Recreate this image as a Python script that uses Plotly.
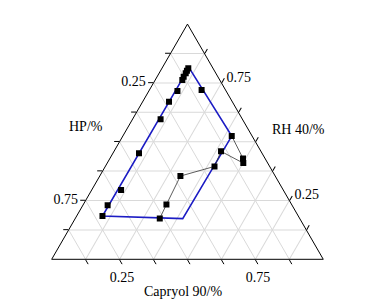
import plotly.graph_objects as go

# Ternary components: RH 40 (top, a), HP (bottom-left, b), Capryol 90 (bottom-right, c)
# Boundary points on the left side (squares)
left_rh  = [0.812, 0.802, 0.791, 0.776, 0.762, 0.716, 0.670, 0.596, 0.451, 0.295, 0.230, 0.184]
left_hp  = [0.091, 0.101, 0.111, 0.126, 0.138, 0.179, 0.233, 0.301, 0.453, 0.597, 0.679, 0.721]
left_cap = [0.097, 0.097, 0.098, 0.098, 0.100, 0.105, 0.097, 0.103, 0.096, 0.108, 0.091, 0.095]

# Extra square on the upper-right boundary
right_rh  = [0.720]
right_hp  = [0.088]
right_cap = [0.192]

# Thin black connected series
tie_rh  = [0.524, 0.429, 0.409, 0.459, 0.395, 0.354, 0.233, 0.174]
tie_hp  = [0.075, 0.081, 0.090, 0.147, 0.203, 0.349, 0.461, 0.515]
tie_cap = [0.401, 0.490, 0.501, 0.394, 0.402, 0.297, 0.306, 0.311]

# Blue region outline
region_rh  = [0.815, 0.524, 0.173, 0.184, 0.815]
region_hp  = [0.087, 0.075, 0.431, 0.721, 0.087]
region_cap = [0.098, 0.401, 0.396, 0.095, 0.098]

tick_vals = [0.125, 0.25, 0.375, 0.5, 0.625, 0.75, 0.875]
tick_text = ["", "0.75", "", "", "", "0.25", ""]

font_family = "Liberation Serif"

fig = go.Figure()
fig.add_trace(go.Scatterternary(
    a=region_rh, b=region_hp, c=region_cap, mode="lines",
    line=dict(color="#1c1cc4", width=1.6), hoverinfo="skip"))
fig.add_trace(go.Scatterternary(
    a=tie_rh, b=tie_hp, c=tie_cap, mode="lines+markers",
    line=dict(color="#333333", width=0.8),
    marker=dict(symbol="square", size=6, color="black")))
fig.add_trace(go.Scatterternary(
    a=left_rh + right_rh, b=left_hp + right_hp, c=left_cap + right_cap,
    mode="markers", marker=dict(symbol="square", size=6, color="black")))

axis_common = dict(
    title=dict(text=""),
    tickmode="array", tickvals=tick_vals, ticktext=tick_text,
    ticks="outside", ticklen=5, tickcolor="black", tickwidth=1,
    linecolor="black", linewidth=1,
    showgrid=True, gridcolor="#d9d9d9", gridwidth=0.8,
    tickfont=dict(family=font_family, size=14, color="black"),
    min=0,
)

fig.update_layout(
    width=388, height=304,
    margin=dict(l=0, r=0, t=0, b=0, pad=0),
    paper_bgcolor="white", plot_bgcolor="white",
    showlegend=False,
    ternary=dict(
        domain=dict(x=[0.1332, 0.8332], y=[0.147, 0.9207]),
        bgcolor="white", sum=1,
        aaxis=axis_common, baxis=axis_common, caxis=axis_common,
    ),
    annotations=[
        dict(text="HP/%", x=85.5 / 388, y=1 - 126.7 / 304, xref="paper", yref="paper",
             showarrow=False, xanchor="center", yanchor="middle",
             font=dict(family=font_family, size=14, color="black")),
        dict(text="RH 40/%", x=298.3 / 388, y=1 - 129.3 / 304, xref="paper", yref="paper",
             showarrow=False, xanchor="center", yanchor="middle",
             font=dict(family=font_family, size=14, color="black")),
        dict(text="Capryol 90/%", x=183 / 388, y=1 - 291 / 304, xref="paper", yref="paper",
             showarrow=False, xanchor="center", yanchor="middle",
             font=dict(family=font_family, size=14, color="black")),
    ],
)

fig.write_html("out.html")
